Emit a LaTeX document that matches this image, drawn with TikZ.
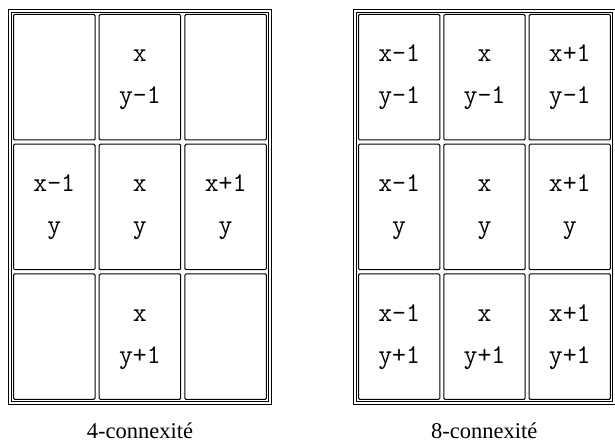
\documentclass[tikz,border=0pt]{standalone}
\usepackage{fontspec}
\setmainfont{Liberation Serif}
\newcommand\celltext[3]{%
  \node[lab] (#1a) at ([yshift=-48pt]#1.north) {#2};
  \node[lab] (#1b) at ([yshift=-90pt]#1.north) {#3};}
\begin{document}
\begin{tikzpicture}[x=1pt,y=-1pt,
  framebox/.style={draw, line width=1pt, inner sep=0pt, anchor=north west},
  cellbox/.style={draw, line width=1pt, rounded corners=1.2pt, minimum width=81.5pt, minimum height=125.5pt, inner sep=0pt, anchor=north west},
  lab/.style={font=\ttfamily\fontsize{27}{27}\selectfont, anchor=base, inner sep=0pt},
  captext/.style={font=\fontsize{22.5}{22.5}\selectfont, anchor=base, inner sep=0pt}]
\useasboundingbox (0,0) rectangle (615,443);
% left panel frame
\node[framebox, minimum width=263pt, minimum height=395pt] (Lout) at (8,9) {};
\node[framebox, minimum width=257.6pt, minimum height=389.6pt] (Lin) at (10.7,11.7) {};
% right panel frame
\node[framebox, minimum width=261.6pt, minimum height=395pt] (Rout) at (353,9) {};
\node[framebox, minimum width=256.2pt, minimum height=389.6pt] (Rin) at (355.7,11.7) {};
% cells
\foreach \r in {1,2,3}{
  \foreach \c in {1,2,3}{
    \pgfmathsetmacro\yy{14+(\r-1)*129.7}
    \pgfmathsetmacro\xl{13+(\c-1)*85.7}
    \pgfmathsetmacro\xr{358+(\c-1)*85.3}
    \node[cellbox] (L\r\c) at (\xl,\yy) {};
    \node[cellbox, minimum width=81.3pt] (R\r\c) at (\xr,\yy) {};
  }
}
% left texts (4-connexity)
\celltext{L12}{x}{y-1}
\celltext{L21}{x-1}{y}
\celltext{L22}{x}{y}
\celltext{L23}{x+1}{y}
\celltext{L32}{x}{y+1}
% right texts (8-connexity)
\celltext{R11}{x-1}{y-1}
\celltext{R12}{x}{y-1}
\celltext{R13}{x+1}{y-1}
\celltext{R21}{x-1}{y}
\celltext{R22}{x}{y}
\celltext{R23}{x+1}{y}
\celltext{R31}{x-1}{y+1}
\celltext{R32}{x}{y+1}
\celltext{R33}{x+1}{y+1}
% captions
\node[captext] (capL) at ([yshift=-33pt]Lout.south) {4-connexité};
\node[captext] (capR) at ([yshift=-33pt]Rout.south) {8-connexité};
\end{tikzpicture}
\end{document}
